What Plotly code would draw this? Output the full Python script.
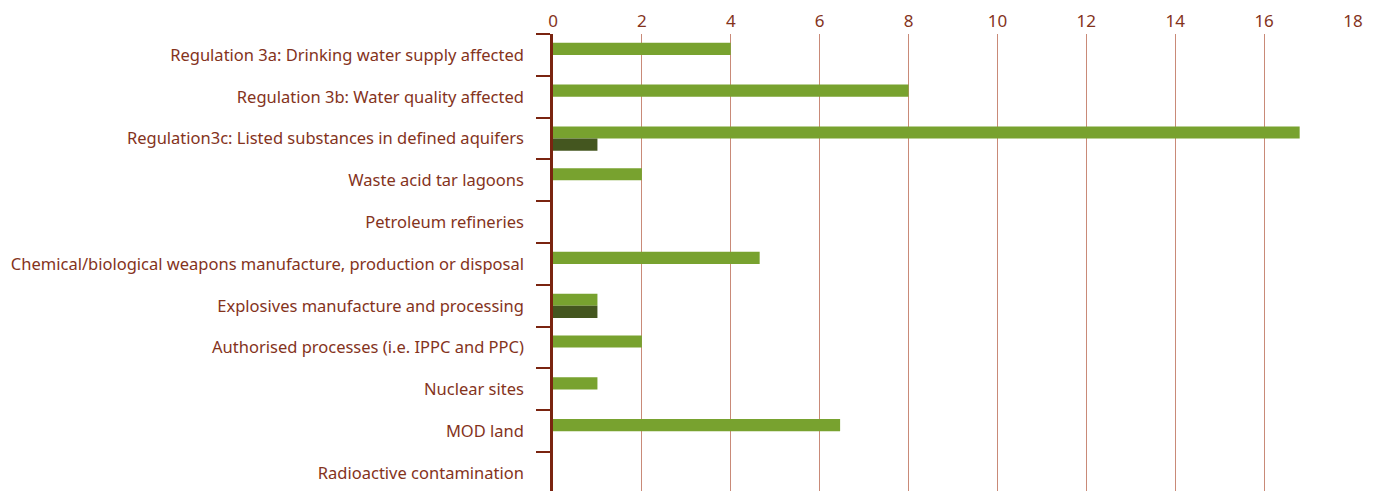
import plotly.graph_objects as go

categories = [
    "Regulation 3a: Drinking water supply affected",
    "Regulation 3b: Water quality affected",
    "Regulation3c: Listed substances in defined aquifers",
    "Waste acid tar lagoons",
    "Petroleum refineries",
    "Chemical/biological weapons manufacture, production or disposal",
    "Explosives manufacture and processing",
    "Authorised processes (i.e. IPPC and PPC)",
    "Nuclear sites",
    "MOD land",
    "Radioactive contamination",
]
series_a = [4, 8, 16.8, 2, 0, 4.65, 1, 2, 1, 6.46, 0]
series_b = [0, 0, 1, 0, 0, 0, 1, 0, 0, 0, 0]
x_ticks = [0, 2, 4, 6, 8, 10, 12, 14, 16, 18]

text_color = "#84331C"
axis_color = "#7A2410"
grid_color = "#C98A78"

fig = go.Figure()
fig.add_trace(go.Bar(y=categories, x=series_a, orientation="h",
                     marker=dict(color="#78A22F", line=dict(width=0)), name="A"))
fig.add_trace(go.Bar(y=categories, x=series_b, orientation="h",
                     marker=dict(color="#44561F", line=dict(width=0)), name="B"))

fig.update_layout(
    width=1380, height=491,
    margin=dict(l=545, r=35, t=26, b=8, autoexpand=False),
    barmode="group",
    bargap=0.42,
    bargroupgap=0,
    showlegend=False,
    plot_bgcolor="white",
    paper_bgcolor="white",
    font=dict(family="Noto Sans", size=16.5, color=text_color),
    xaxis=dict(
        side="top",
        range=[0, 18],
        tickvals=x_ticks,
        showgrid=True,
        gridcolor=grid_color,
        gridwidth=1.3,
        zeroline=False,
        showline=False,
        ticks="",
        automargin=False,
        ticklabelstandoff=3,
        tickfont=dict(size=17, color=text_color),
    ),
    yaxis=dict(
        type="category",
        categoryorder="array",
        categoryarray=categories,
        range=[10.43, -0.5],
        showline=True,
        linecolor=axis_color,
        linewidth=2.5,
        ticks="outside",
        tickson="boundaries",
        ticklen=14,
        tickcolor=axis_color,
        tickwidth=2,
        automargin=False,
        ticklabelstandoff=23,
        showgrid=False,
        tickfont=dict(size=16.5, color=text_color),
    ),
)

fig.write_html("out.html")
